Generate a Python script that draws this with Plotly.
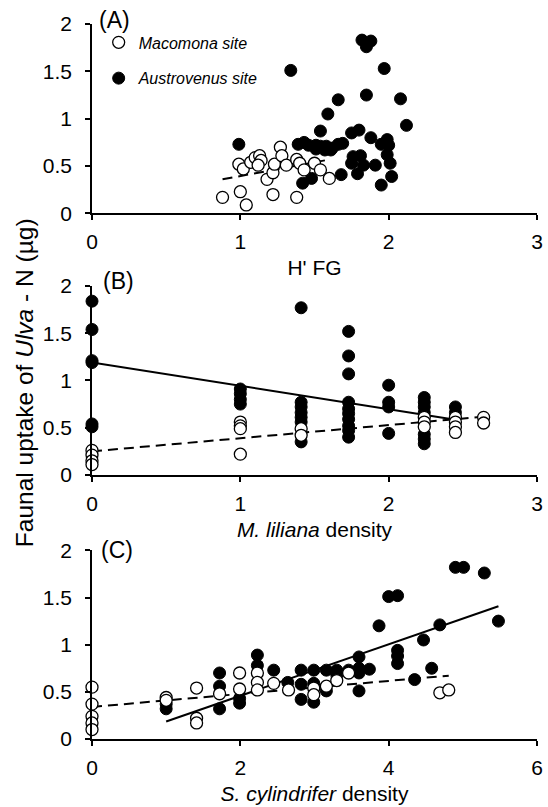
import plotly.graph_objects as go

# ---------------- data ----------------
# Panel A: H' FG
a_mac_x = [0.88, 1.00, 1.04, 0.99, 1.02, 1.07, 1.10, 1.13, 1.14, 1.12, 1.18, 1.22, 1.23, 1.22,
           1.27, 1.28, 1.31, 1.38, 1.38, 1.40, 1.43, 1.50, 1.54, 1.60]
a_mac_y = [0.17, 0.23, 0.09, 0.52, 0.47, 0.54, 0.59, 0.61, 0.56, 0.51, 0.36, 0.43, 0.52, 0.20,
           0.70, 0.61, 0.51, 0.17, 0.57, 0.53, 0.46, 0.53, 0.46, 0.37]
a_aus_x = [0.99, 1.34, 1.82, 1.88, 1.85, 1.97, 1.85, 2.08, 1.66, 1.59, 2.12, 1.54, 1.75, 1.80,
           1.88, 1.39, 1.43, 1.46, 1.51, 1.54, 1.58, 1.62, 1.66, 1.69, 1.95, 1.99, 2.00, 1.99,
           2.01, 2.02, 1.95, 1.76, 1.81, 1.75, 1.83, 1.91, 1.79, 1.68, 1.48, 1.42, 1.51, 1.57, 1.61]
a_aus_y = [0.73, 1.51, 1.83, 1.82, 1.76, 1.53, 1.25, 1.21, 1.20, 1.05, 0.93, 0.87, 0.85, 0.88,
           0.80, 0.73, 0.75, 0.72, 0.72, 0.71, 0.71, 0.69, 0.73, 0.74, 0.73, 0.78, 0.72, 0.62,
           0.53, 0.39, 0.30, 0.60, 0.61, 0.53, 0.51, 0.51, 0.42, 0.41, 0.37, 0.32, 0.68, 0.67, 0.67]

# Panel B: M. liliana density
b_mac_x = [0, 0, 0, 0, 1, 1, 1, 1, 1.41, 1.41, 2.24, 2.24, 2.24, 2.45, 2.45, 2.45, 2.45, 2.64, 2.64]
b_mac_y = [0.26, 0.21, 0.15, 0.11, 0.56, 0.52, 0.49, 0.22, 0.49, 0.42, 0.61, 0.56, 0.51,
           0.61, 0.56, 0.51, 0.45, 0.61, 0.55]
b_aus_x = [0, 0, 0, 0, 0, 0, 1, 1, 1, 1, 1.41, 1.41, 1.41, 1.41, 1.41, 1.41, 1.41,
           1.73, 1.73, 1.73, 1.73, 1.73, 1.73, 1.73, 1.73, 1.73, 1.73,
           2.0, 2.0, 2.0, 2.0, 2.24, 2.24, 2.24, 2.24, 2.24, 2.24, 2.24, 2.45, 2.45]
b_aus_y = [1.84, 1.54, 1.21, 1.19, 0.54, 0.51, 0.91, 0.86, 0.80, 0.75,
           1.77, 0.77, 0.72, 0.66, 0.61, 0.56, 0.35,
           1.52, 1.26, 1.07, 0.77, 0.70, 0.65, 0.59, 0.52, 0.47, 0.40,
           0.95, 0.77, 0.72, 0.44, 0.82, 0.77, 0.72, 0.66, 0.43, 0.38, 0.33, 0.72, 0.66]

# Panel C: S. cylindrifer density
c_mac_x = [0, 0, 0, 0, 0, 1.0, 1.0, 1.41, 1.41, 1.41, 1.72, 1.99, 1.99, 2.23, 2.23, 2.23,
           2.45, 2.65, 2.99, 2.99, 3.16, 3.30, 3.46, 4.69, 4.81]
c_mac_y = [0.55, 0.37, 0.24, 0.17, 0.10, 0.44, 0.41, 0.54, 0.22, 0.17, 0.48, 0.70, 0.53,
           0.70, 0.60, 0.52, 0.59, 0.52, 0.54, 0.47, 0.56, 0.62, 0.70, 0.49, 0.52]
c_aus_x = [1.0, 1.0, 1.72, 1.72, 1.72, 1.99, 1.99, 2.23, 2.23, 2.45, 2.64, 2.82, 2.82, 2.82,
           2.99, 2.99, 2.99, 3.16, 3.16, 3.30, 3.30, 3.46, 3.60, 3.60, 3.60, 3.60, 3.74, 3.87,
           4.00, 4.12, 4.12, 4.12, 4.12, 4.35, 4.47, 4.58, 4.69, 4.90, 5.01, 5.29, 5.48]
c_aus_y = [0.37, 0.32, 0.70, 0.56, 0.32, 0.43, 0.38, 0.89, 0.78, 0.73, 0.60, 0.73, 0.58, 0.42,
           0.73, 0.59, 0.39, 0.73, 0.51, 0.73, 0.68, 0.73, 0.87, 0.75, 0.70, 0.51, 0.74, 1.20,
           1.51, 1.52, 0.94, 0.88, 0.80, 0.63, 1.05, 0.75, 1.21, 1.82, 1.82, 1.76, 1.25]

# Trend lines: [intercept, slope, x_start, x_end]
a_mac_trend = [0.105, 0.29, 0.88, 1.57]
b_aus_trend = [1.19, -0.247, 0.0, 2.45]
b_mac_trend = [0.25, 0.139, 0.0, 2.67]
c_aus_trend = [-0.088, 0.273, 1.0, 5.48]
c_mac_trend = [0.34, 0.069, 0.0, 4.81]

x_ticks_a = [0, 1, 2, 3]
x_ticks_b = [0, 1, 2, 3]
x_ticks_c = [0, 2, 4, 6]
y_ticks = [0, 0.5, 1, 1.5, 2]
y_tick_text = ["0", "0.5", "1", "1.5", "2"]

FONT = "Liberation Sans, Arial, sans-serif"
MS = 12
DASH = "10px,6px"

fig = go.Figure()


def trend(params):
    b0, b1, x0, x1 = params
    xs = [x0, x1]
    return xs, [b0 + b1 * v for v in xs]


def add_panel(n, mx, my, ax, ay, trends, legend):
    xa = "x" if n == 1 else f"x{n}"
    ya = "y" if n == 1 else f"y{n}"
    for params, dash in trends:
        tx, ty = trend(params)
        fig.add_trace(go.Scatter(x=tx, y=ty, mode="lines", xaxis=xa, yaxis=ya,
                                 line=dict(color="black", width=2, dash=dash),
                                 showlegend=False, hoverinfo="skip"))
    fig.add_trace(go.Scatter(x=ax, y=ay, mode="markers", xaxis=xa, yaxis=ya,
                             name="<i>Austrovenus site</i>", legendgroup="aus",
                             legendrank=2,
                             showlegend=legend, cliponaxis=False,
                             marker=dict(symbol="circle", size=MS, color="black",
                                         line=dict(color="black", width=1))))
    fig.add_trace(go.Scatter(x=mx, y=my, mode="markers", xaxis=xa, yaxis=ya,
                             name="<i>Macomona site</i>", legendgroup="mac",
                             legendrank=1,
                             showlegend=legend, cliponaxis=False,
                             marker=dict(symbol="circle", size=MS, color="white",
                                         line=dict(color="black", width=1.3))))


add_panel(1, a_mac_x, a_mac_y, a_aus_x, a_aus_y, [(a_mac_trend, DASH)], True)
add_panel(2, b_mac_x, b_mac_y, b_aus_x, b_aus_y, [(b_aus_trend, "solid"), (b_mac_trend, DASH)], False)
add_panel(3, c_mac_x, c_mac_y, c_aus_x, c_aus_y, [(c_aus_trend, "solid"), (c_mac_trend, DASH)], False)

axis_common = dict(showline=True, linecolor="black", linewidth=1.6, ticks="outside",
                   ticklen=5, tickwidth=1.6, tickcolor="black", showgrid=False,
                   zeroline=False, ticklabeloverflow="allow",
                   tickfont=dict(size=21, color="black", family=FONT))

doms = {1: [0.735, 1.0], 2: [0.3693, 0.6335], 3: [0.0, 0.2638]}
xr = {1: [0, 3], 2: [0, 3], 3: [0, 6]}
xt = {1: x_ticks_a, 2: x_ticks_b, 3: x_ticks_c}
titles = {1: "H' FG", 2: "<i>M. liliana</i> density", 3: "<i>S. cylindrifer</i> density"}

layout = {}
for n in (1, 2, 3):
    xk = "xaxis" if n == 1 else f"xaxis{n}"
    yk = "yaxis" if n == 1 else f"yaxis{n}"
    ya = "y" if n == 1 else f"y{n}"
    xa = "x" if n == 1 else f"x{n}"
    layout[xk] = dict(axis_common, domain=[0, 1], anchor=ya, range=xr[n],
                      tickvals=xt[n], ticklabelstandoff=4,
                      title=dict(text=titles[n], standoff=8,
                                 font=dict(size=21, color="black", family=FONT)))
    layout[yk] = dict(axis_common, domain=doms[n], anchor=xa, range=[0, 2],
                      tickvals=y_ticks, ticktext=y_tick_text, ticklabelstandoff=9)

fig.update_layout(**layout)

panel_labels = [("(A)", "x domain", "y domain", 0.012, 1.021),
                ("(B)", "x2 domain", "y2 domain", 0.02, 1.029),
                ("(C)", "x3 domain", "y3 domain", 0.016, 1.003)]
for txt, xref, yref, px, py in panel_labels:
    fig.add_annotation(text=txt, xref=xref, yref=yref, x=px, y=py, xanchor="left",
                       yanchor="middle", showarrow=False,
                       font=dict(size=23, color="black", family=FONT))

fig.add_annotation(text="Faunal uptake of <i>Ulva</i> - N (µg)", textangle=-90,
                   xref="paper", yref="paper", x=-0.153, y=0.499, xanchor="center",
                   yanchor="middle", showarrow=False,
                   font=dict(size=24.5, color="black", family=FONT))

fig.update_layout(
    width=548, height=807,
    margin=dict(l=92, r=5, t=24, b=64),
    paper_bgcolor="white", plot_bgcolor="white",
    font=dict(family=FONT, color="black"),
    legend=dict(x=0.015, y=0.998, xanchor="left", yanchor="top",
                traceorder="grouped", tracegroupgap=12,
                itemwidth=30, bgcolor="rgba(0,0,0,0)",
                font=dict(size=16, color="black", family=FONT)),
)

fig.write_html("out.html")
